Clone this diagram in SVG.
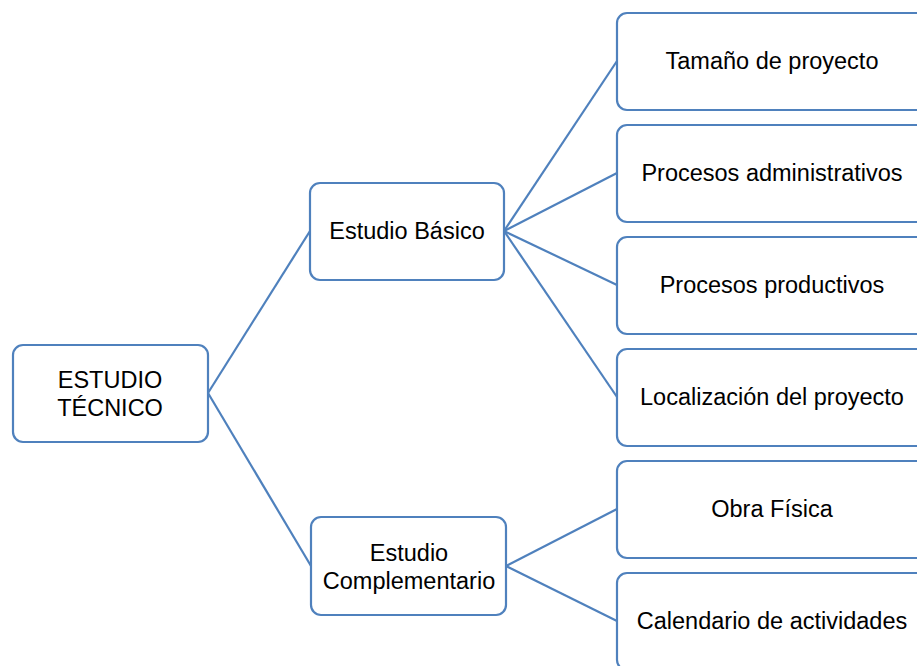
<svg xmlns="http://www.w3.org/2000/svg" width="917" height="666" viewBox="0 0 917 666">
<style>
.box{fill:#fff;stroke:#4f81bd;stroke-width:2.2}
.t{font-family:"Liberation Sans",Arial,sans-serif;font-size:23.5px;fill:#000;text-anchor:middle}
.c{fill:none;stroke:#4f81bd;stroke-width:2.2}
</style>
<rect width="917" height="666" fill="#fff"/>
<g id="connectors">
<line class="c" x1="208" y1="393" x2="310" y2="231"/>
<line class="c" x1="208" y1="393" x2="311" y2="566"/>
<line class="c" x1="504" y1="231" x2="617" y2="61"/>
<line class="c" x1="504" y1="231" x2="617" y2="173"/>
<line class="c" x1="504" y1="231" x2="617" y2="285"/>
<line class="c" x1="504" y1="231" x2="617" y2="397"/>
<line class="c" x1="506" y1="566" x2="617" y2="509"/>
<line class="c" x1="506" y1="566" x2="617" y2="621"/>
</g>
<g id="root">
<rect class="box" x="13" y="345" width="195" height="97" rx="10"/>
<text class="t" x="110" y="388">ESTUDIO</text>
<text class="t" x="110" y="416">TÉCNICO</text>
</g>
<g id="basico">
<rect class="box" x="310" y="183" width="194" height="97" rx="10"/>
<text class="t" x="407" y="239">Estudio Básico</text>
</g>
<g id="complementario">
<rect class="box" x="311" y="517" width="195" height="98" rx="10"/>
<text class="t" x="409" y="561">Estudio</text>
<text class="t" x="409" y="589">Complementario</text>
</g>
<g id="tamano">
<rect class="box" x="617" y="13" width="320" height="97" rx="10"/>
<text class="t" x="772" y="69">Tamaño de proyecto</text>
</g>
<g id="administrativos">
<rect class="box" x="617" y="125" width="320" height="97" rx="10"/>
<text class="t" x="772" y="181">Procesos administrativos</text>
</g>
<g id="productivos">
<rect class="box" x="617" y="237" width="320" height="97" rx="10"/>
<text class="t" x="772" y="293">Procesos productivos</text>
</g>
<g id="localizacion">
<rect class="box" x="617" y="349" width="320" height="97" rx="10"/>
<text class="t" x="772" y="405">Localización del proyecto</text>
</g>
<g id="obra">
<rect class="box" x="617" y="461" width="320" height="97" rx="10"/>
<text class="t" x="772" y="517">Obra Física</text>
</g>
<g id="calendario">
<rect class="box" x="617" y="573" width="320" height="97" rx="10"/>
<text class="t" x="772" y="629">Calendario de actividades</text>
</g>
</svg>
